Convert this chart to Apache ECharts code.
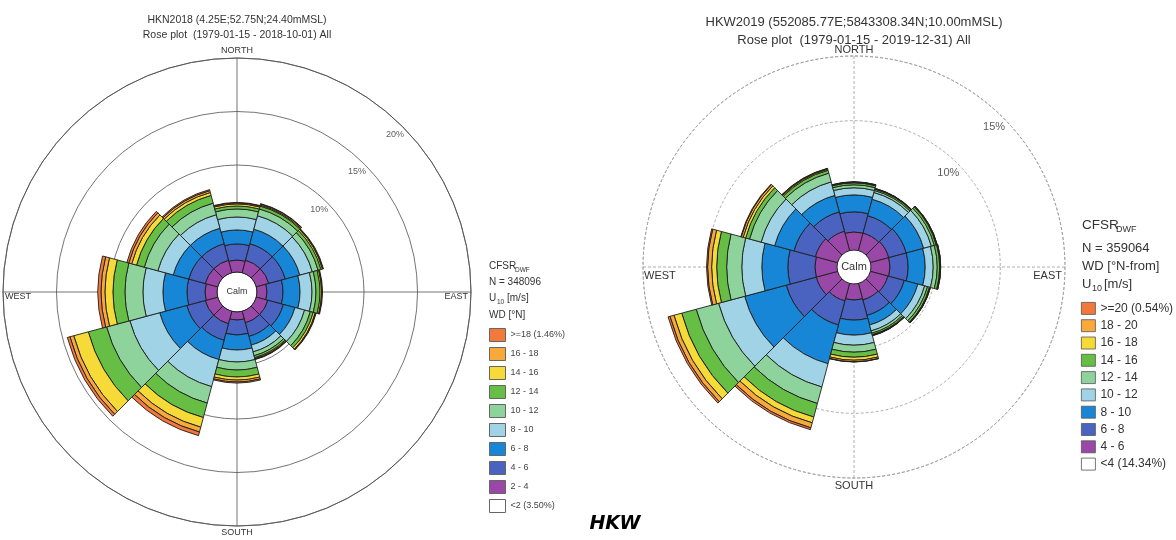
<!DOCTYPE html>
<html>
<head>
<meta charset="utf-8">
<title>HKW rose plots</title>
<script src="https://cdn.jsdelivr.net/npm/echarts@6/dist/echarts.min.js"></script>
<style>
  html, body { margin: 0; padding: 0; background: #fff; }
  #chart { width: 1176px; height: 540px; }
</style>
</head>
<body>
<div id="chart"></div>
<script>
// wind directions (sector centres, clockwise from north)
var directions = ['N', '30', '60', 'E', '120', '150', 'S', '210', '240', 'W', '300', '330'];

// HKN2018 - frequency [%] per direction for each U10 class
var hkn_2_4   = [1.12, 1.21, 1.21, 0.93, 1.12, 1.12, 0.75, 1.21, 1.21, 1.12, 1.21, 1.21];
var hkn_4_6   = [1.50, 1.59, 1.59, 1.50, 1.50, 1.31, 1.40, 1.59, 1.78, 1.68, 1.59, 1.59];
var hkn_6_8   = [1.31, 1.41, 1.41, 1.59, 1.12, 0.84, 1.40, 1.87, 2.62, 2.25, 1.50, 1.50];
var hkn_8_10  = [1.21, 1.30, 1.21, 1.12, 0.93, 0.66, 1.12, 2.62, 2.89, 1.87, 1.49, 1.31];
var hkn_10_12 = [0.75, 0.66, 0.56, 0.37, 0.56, 0.37, 0.75, 1.59, 2.25, 1.68, 1.31, 1.12];
var hkn_12_14 = [0.28, 0.28, 0.28, 0.38, 0.28, 0.19, 0.65, 1.40, 1.77, 1.12, 0.75, 0.75];
var hkn_14_16 = [0.19, 0.09, 0.14, 0.14, 0.19, 0.09, 0.29, 0.93, 1.41, 0.75, 0.47, 0.28];
var hkn_16_18 = [0.09, 0.10, 0.05, 0.04, 0.05, 0.05, 0.18, 0.47, 0.37, 0.37, 0.28, 0.18];
var hkn_18    = [0.05, 0.04, 0.05, 0.05, 0.04, 0.04, 0.10, 0.35, 0.25, 0.30, 0.19, 0.10];
var hknClasses = ['2 - 4', '4 - 6', '6 - 8', '8 - 10', '10 - 12', '12 - 14', '14 - 16', '16 - 18', '>=18 (1.46%)'];
var hknCalm = '<2 (3.50%)';
var hknRings = [10, 15, 20];

// HKW2019
var hkw_4_6   = [1.40, 1.40, 1.47, 1.47, 1.40, 1.32, 1.24, 1.40, 1.71, 1.71, 1.78, 1.55];
var hkw_6_8   = [1.55, 1.39, 1.40, 1.40, 1.31, 1.24, 1.55, 1.93, 2.40, 2.09, 1.71, 1.55];
var hkw_8_10  = [1.31, 1.32, 1.39, 1.32, 1.09, 0.77, 1.16, 3.10, 3.33, 2.01, 1.55, 1.32];
var hkw_10_12 = [0.55, 0.54, 0.62, 0.62, 0.54, 0.47, 0.78, 1.86, 2.09, 1.55, 1.08, 1.08];
var hkw_12_14 = [0.23, 0.16, 0.24, 0.31, 0.23, 0.19, 0.54, 1.32, 1.79, 1.17, 0.93, 0.70];
var hkw_14_16 = [0.15, 0.11, 0.15, 0.19, 0.16, 0.12, 0.39, 1.09, 1.16, 0.77, 0.31, 0.23];
var hkw_16_18 = [0.04, 0.03, 0.04, 0.04, 0.04, 0.04, 0.23, 0.46, 0.62, 0.39, 0.20, 0.08];
var hkw_18_20 = [0.03, 0.02, 0.03, 0.03, 0.03, 0.03, 0.12, 0.40, 0.32, 0.31, 0.15, 0.06];
var hkw_20    = [0.01, 0.01, 0.01, 0.01, 0.01, 0.01, 0.02, 0.15, 0.15, 0.08, 0.04, 0.02];
var hkwClasses = ['4 - 6', '6 - 8', '8 - 10', '10 - 12', '12 - 14', '14 - 16', '16 - 18', '18 - 20', '>=20 (0.54%)'];
var hkwCalm = '<4 (14.34%)';
var hkwRings = [10, 15];

var bandColors = ['#9a48a8', '#4a62c0', '#1886d6', '#9fd3e5', '#8fd39c', '#66be45', '#f5da38', '#f9a83a', '#f2783c'];

var FONT = '"Liberation Sans", Arial, sans-serif';
var chart = echarts.init(document.getElementById('chart'));

function roseSeries(bands, names, calmName, polarIndex, stack, suffix) {
    var out = [];
    for (var i = 0; i < bands.length; i++) {
        out.push({
            type: 'bar', coordinateSystem: 'polar', polarIndex: polarIndex,
            stack: stack, name: names[i] + suffix, data: bands[i],
            barCategoryGap: '0%',
            itemStyle: { color: bandColors[i], borderColor: '#1e1e1e', borderWidth: 0.9 },
            silent: true
        });
    }
    // calm class: only shown in the legend
    out.push({
        type: 'bar', coordinateSystem: 'polar', polarIndex: polarIndex,
        stack: stack, name: calmName, data: [], barCategoryGap: '0%',
        itemStyle: { color: '#fff', borderColor: '#777', borderWidth: 1 }
    });
    return out;
}

function ringLabels(rings, polarIndex, size) {
    return {
        type: 'scatter', coordinateSystem: 'polar', polarIndex: polarIndex,
        symbolSize: 0, silent: true,
        data: rings.map(function (t) { return { name: t + '%', value: [t - 1, 45] }; }),
        label: { show: true, position: 'inside', formatter: '{b}', fontSize: size, color: '#333', fontFamily: FONT }
    };
}

function txt(x, y, s, size, align, extra) {
    var st = { text: s, fontSize: size, fontFamily: FONT, fill: '#333',
        textAlign: align || 'center', textVerticalAlign: 'middle',
        align: align || 'center', verticalAlign: 'middle' };
    for (var k in extra) st[k] = extra[k];
    return { type: 'text', x: x, y: y, silent: true, style: st };
}

function catAngle(p) {
    return { polarIndex: p, type: 'category', data: directions, startAngle: 105, clockwise: true,
        axisLine: { show: false }, axisTick: { show: false }, axisLabel: { show: false }, splitLine: { show: false } };
}
function gridAngle(p, ls) {
    return { polarIndex: p, type: 'value', min: 0, max: 360, interval: 90, startAngle: 90, clockwise: true,
        axisLine: { show: true, lineStyle: ls }, axisTick: { show: false }, axisLabel: { show: false },
        splitLine: { show: true, lineStyle: ls } };
}
function valRadius(p, max, showRings, ls) {
    return { polarIndex: p, type: 'value', min: 0, max: max, interval: 5,
        axisLine: { show: false }, axisTick: { show: false }, axisLabel: { show: false },
        splitLine: { show: showRings, lineStyle: ls } };
}

var solidGrid = { color: '#505050', width: 0.8 };
var dashGrid = { color: '#9a9a9a', width: 0.8, type: [3, 2] };

var hknBands = [hkn_2_4, hkn_4_6, hkn_6_8, hkn_8_10, hkn_10_12, hkn_12_14, hkn_14_16, hkn_16_18, hkn_18];
var hkwBands = [hkw_4_6, hkw_6_8, hkw_8_10, hkw_10_12, hkw_12_14, hkw_14_16, hkw_16_18, hkw_18_20, hkw_20];

var series = [].concat(
    roseSeries(hknBands, hknClasses, hknCalm, 0, 'hkn', ''),
    roseSeries(hkwBands, hkwClasses, hkwCalm, 2, 'hkw', '\u00a0'),
    [ringLabels(hknRings, 1, 9), ringLabels(hkwRings, 3, 11)]
);

var option = {
    animation: false,
    backgroundColor: '#fff',
    polar: [
        { center: [237, 292], radius: [20, 234] },
        { center: [237, 292], radius: [20, 234] },
        { center: [854, 267], radius: [17, 211] },
        { center: [854, 267], radius: [17, 211] }
    ],
    angleAxis: [catAngle(0), gridAngle(1, solidGrid), catAngle(2), gridAngle(3, dashGrid)],
    radiusAxis: [valRadius(0, 20, false), valRadius(1, 20, true, solidGrid),
                 valRadius(2, 15, false), valRadius(3, 15, true, dashGrid)],
    legend: [
        {
            data: hknClasses.slice().reverse().concat([hknCalm]),
            orient: 'vertical', left: 489, top: 328, padding: 0,
            itemWidth: 16, itemHeight: 13, itemGap: 5,
            icon: 'rect', selectedMode: false,
            itemStyle: { borderColor: '#666', borderWidth: 1 },
            textStyle: { fontSize: 9, color: '#444', fontFamily: FONT }
        },
        {
            data: hkwClasses.map(function (n) { return n + '\u00a0'; }).reverse().concat([hkwCalm]),
            orient: 'vertical', left: 1081, top: 302, padding: 0,
            itemWidth: 14, itemHeight: 12, itemGap: 4.5,
            icon: 'rect', selectedMode: false,
            itemStyle: { borderColor: '#555', borderWidth: 0.8 },
            textStyle: { fontSize: 12, color: '#333', fontFamily: FONT }
        }
    ],
    graphic: [
        // HKN2018
        txt(237, 20, 'HKN2018 (4.25E;52.75N;24.40mMSL)', 10.5),
        txt(237, 35, 'Rose plot  (1979-01-15 - 2018-10-01) All', 10.5),
        txt(237, 51, 'NORTH', 9),
        txt(237, 533, 'SOUTH', 9),
        txt(5, 297, 'WEST', 9, 'left'),
        txt(468, 297, 'EAST', 9, 'right'),
        txt(237, 292, 'Calm', 9),
        txt(489, 266, 'CFSR', 10, 'left'),
        txt(515, 270, 'DWF', 6.5, 'left'),
        txt(489, 282, 'N = 348096', 10, 'left'),
        txt(489, 298, 'U', 10, 'left'),
        txt(497, 302, '10', 6.5, 'left'),
        txt(507, 298, '[m/s]', 10, 'left'),
        txt(489, 315, 'WD [\u00b0N]', 10, 'left'),
        // HKW2019
        txt(854, 22, 'HKW2019 (552085.77E;5843308.34N;10.00mMSL)', 13),
        txt(854, 40, 'Rose plot  (1979-01-15 - 2019-12-31) All', 13),
        txt(854, 50, 'NORTH', 11),
        txt(854, 486, 'SOUTH', 11),
        txt(644, 276, 'WEST', 11, 'left'),
        txt(1062, 276, 'EAST', 11, 'right'),
        txt(854, 267, 'Calm', 11),
        txt(1082, 225, 'CFSR', 13.5, 'left'),
        txt(1116, 230, 'DWF', 9, 'left'),
        txt(1082, 248, 'N = 359064', 13, 'left'),
        txt(1082, 266, 'WD [\u00b0N-from]', 13, 'left'),
        txt(1082, 284, 'U', 13, 'left'),
        txt(1092, 289, '10', 9, 'left'),
        txt(1104, 284, '[m/s]', 13, 'left'),
        // caption
        txt(615, 524, 'HKW', 19, 'center',
            { fontWeight: 'bold', fontStyle: 'italic', fill: '#000', fontFamily: '"DejaVu Sans", Verdana, sans-serif' })
    ],
    series: series
};

chart.setOption(option);
</script>
</body>
</html>
